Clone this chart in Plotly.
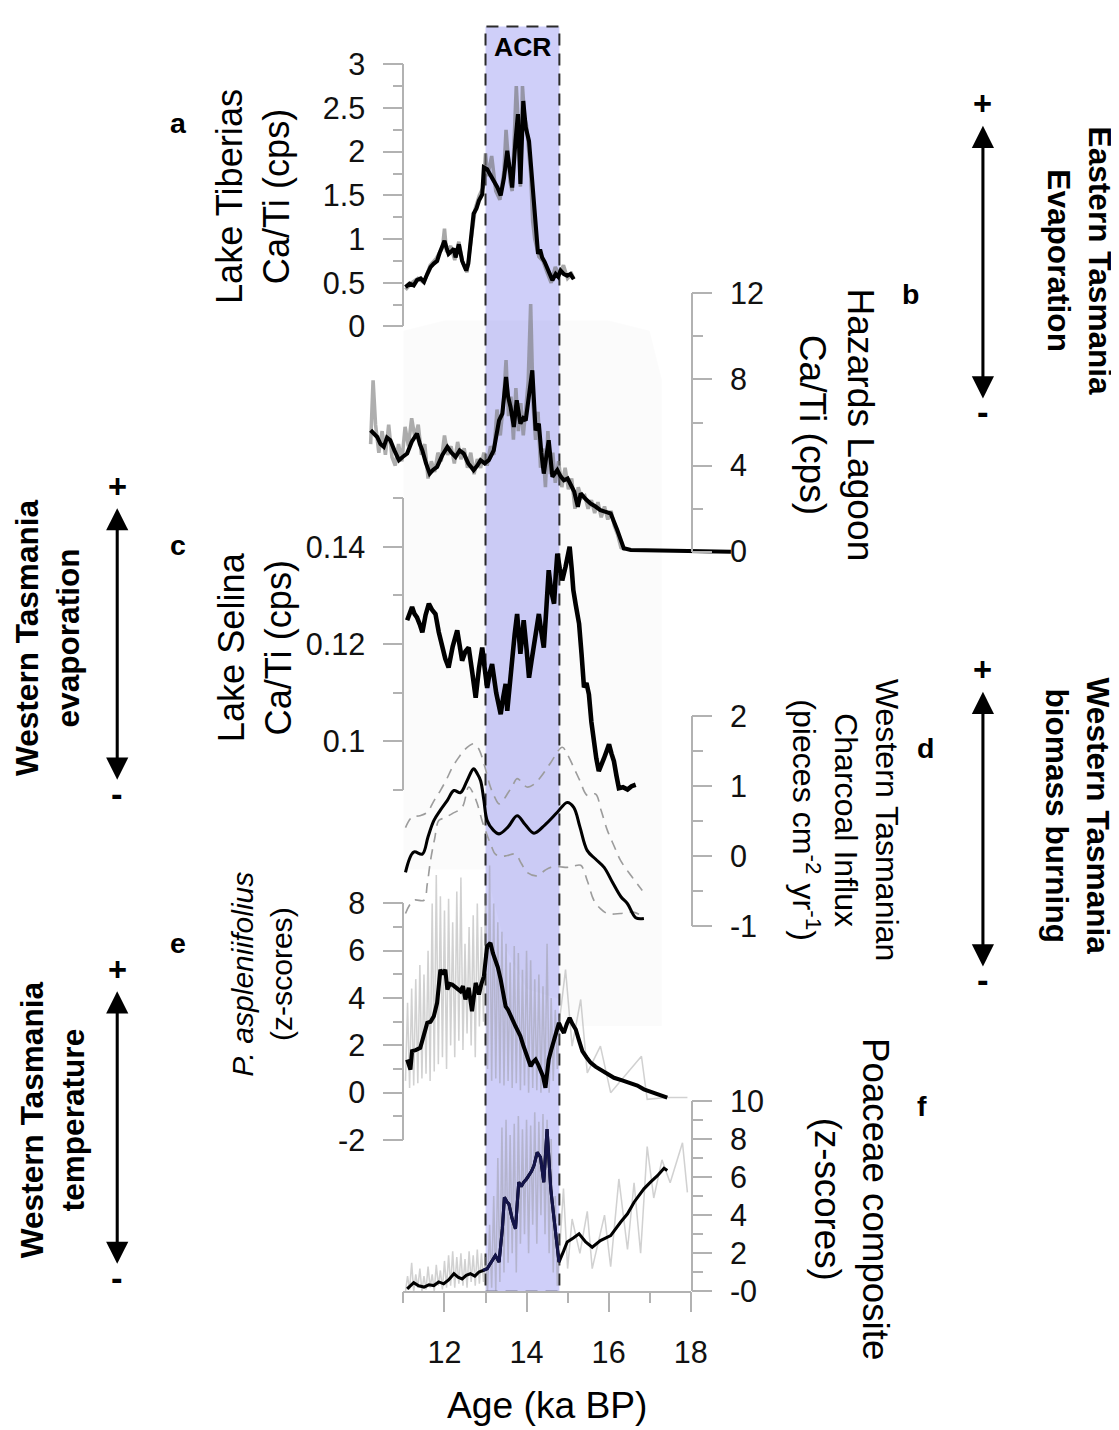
import plotly.graph_objects as go

# Figure size and the observed page->picture mapping (body margin + top offset, then rescale)
FW, FH = 1119, 1430
OX, OY = 8.0, 24.5          # where the figure sits on the page
SX, SY = 0.984, 0.978       # page -> picture scale
FS = 1 / 0.981              # font / stroke compensation

# ---------------- data ----------------
acr_bounds = [13.0, 14.8]

x_tick_vals = [12, 14, 16, 18]
x_minor_vals = [11, 13, 15, 17]

tib_ticks = [0, 0.5, 1, 1.5, 2, 2.5, 3]
tib_ticktext = ['0', '0.5', '1', '1.5', '2', '2.5', '3']
tib_minor = [0.25, 0.75, 1.25, 1.75, 2.25, 2.75]
haz_ticks = [0, 4, 8, 12]
haz_minor = [2, 6, 10]
sel_ticks = [0.10, 0.12, 0.14]
sel_ticktext = ['0.1', '0.12', '0.14']
sel_minor = [0.09, 0.11, 0.13, 0.15]
char_ticks = [-1, 0, 1, 2]
char_minor = [-0.5, 0.5, 1.5]
pasp_ticks = [-2, 0, 2, 4, 6, 8]
pasp_minor = [-1, 1, 3, 5, 7]
poa_ticks = [0, 2, 4, 6, 8, 10]
poa_ticktext = ['-0', '2', '4', '6', '8', '10']
poa_minor = [1, 3, 5, 7, 9]

# (a) Lake Tiberias Ca/Ti
tib_age = [11.05, 11.15, 11.25, 11.33, 11.42, 11.5, 11.58, 11.66, 11.74, 11.82,
           11.88, 11.94, 12.0, 12.05, 12.1, 12.17, 12.23, 12.27, 12.35, 12.43,
           12.48, 12.53, 12.58, 12.63, 12.67, 12.71, 12.78, 12.84, 12.92, 12.96,
           13.04, 13.1, 13.16, 13.22, 13.29, 13.37, 13.45, 13.53, 13.58, 13.61,
           13.65, 13.73, 13.79, 13.83, 13.85, 13.92, 13.98, 14.06, 14.14, 14.22,
           14.28, 14.33, 14.38, 14.44, 14.5, 14.57, 14.63, 14.71, 14.77, 14.83,
           14.91, 14.99, 15.07, 15.15]
tib_val = [0.45, 0.49, 0.47, 0.53, 0.55, 0.51, 0.6, 0.68, 0.72, 0.75,
           0.84, 0.92, 0.98, 0.9, 0.83, 0.86, 0.89, 0.79, 0.94, 0.75,
           0.7, 0.64, 0.72, 0.98, 1.1, 1.29, 1.35, 1.44, 1.51, 1.82,
           1.8, 1.75, 1.7, 1.66, 1.59, 1.5, 1.7, 2.01, 1.85, 1.74,
           1.59, 2.12, 2.43, 1.9, 1.63, 2.58, 2.28, 2.12, 1.67, 1.13,
           0.83, 0.88, 0.79, 0.74, 0.68, 0.6, 0.53, 0.6, 0.57, 0.64,
           0.6, 0.58, 0.6, 0.54]
tib_raw_age = [11.05, 11.2, 11.35, 11.5, 11.65, 11.8, 11.95, 12.0, 12.05, 12.15,
               12.25, 12.35, 12.45, 12.55, 12.65, 12.75, 12.85, 12.95, 13.0, 13.05,
               13.15, 13.25, 13.35, 13.45, 13.5, 13.55, 13.6, 13.65, 13.7, 13.75,
               13.8, 13.85, 13.9, 13.95, 14.0, 14.05, 14.1, 14.15, 14.2, 14.3,
               14.4, 14.5, 14.6, 14.7, 14.8, 14.9, 15.0, 15.1, 15.15]
tib_raw = [0.42, 0.5, 0.55, 0.5, 0.7, 0.78, 0.9, 1.12, 0.85, 0.92,
           0.76, 0.97, 0.72, 0.62, 1.0, 1.35, 1.5, 1.6, 1.98, 1.72,
           1.95, 1.55, 1.45, 1.78, 2.25, 1.9, 1.65, 1.55, 2.2, 2.75,
           2.3, 1.6, 2.75, 2.4, 2.3, 2.0, 1.75, 1.2, 1.0, 0.8,
           0.75, 0.62, 0.5, 0.68, 0.6, 0.7, 0.55, 0.6, 0.55]

# (b) Hazards Lagoon Ca/Ti
haz_age = [10.2, 10.28, 10.36, 10.44, 10.52, 10.6, 10.68, 10.78, 10.89, 10.98,
           11.09, 11.2, 11.33, 11.4, 11.46, 11.55, 11.64, 11.72, 11.82, 11.95,
           12.07, 12.17, 12.27, 12.37, 12.47, 12.58, 12.71, 12.8, 12.88, 12.98,
           13.08, 13.2, 13.33, 13.41, 13.5, 13.55, 13.61, 13.69, 13.76, 13.85,
           13.92, 13.98, 14.06, 14.14, 14.22, 14.3, 14.36, 14.42, 14.48, 14.54,
           14.63, 14.75, 14.83, 14.91, 15.0, 15.07, 15.16, 15.25, 15.32, 15.44,
           15.56, 15.68, 15.8, 15.93, 16.05, 16.21, 16.3, 16.37, 16.54, 17.0,
           17.59, 18.3, 18.98]
haz_val = [5.64, 5.5, 5.33, 5.0, 4.87, 5.3, 5.18, 4.7, 4.25, 4.4,
           4.56, 5.1, 5.49, 5.0, 4.71, 4.1, 3.63, 3.8, 3.94, 4.5,
           4.87, 4.6, 4.40, 4.7, 4.56, 4.1, 3.79, 4.0, 4.25, 4.1,
           4.25, 4.71, 6.10, 6.41, 8.11, 7.2, 6.72, 5.79, 7.03, 5.95,
           6.2, 6.10, 7.34, 8.42, 5.64, 5.95, 4.6, 3.63, 4.4, 5.18,
           3.48, 3.79, 3.5, 3.32, 3.4, 3.17, 2.8, 2.09, 2.71, 2.45,
           2.24, 2.1, 1.93, 1.85, 1.78, 1.01, 0.5, 0.16, 0.08, 0.06,
           0.08, 0.04, 0.0]
haz_raw_age = [10.2, 10.26, 10.32, 10.4, 10.48, 10.56, 10.64, 10.72, 10.8, 10.88,
               10.96, 11.04, 11.12, 11.2, 11.28, 11.36, 11.44, 11.52, 11.6, 11.68,
               11.76, 11.84, 11.92, 12.0, 12.08, 12.16, 12.24, 12.32, 12.4, 12.48,
               12.56, 12.64, 12.72, 12.8, 12.88, 12.96, 13.04, 13.12, 13.2, 13.28,
               13.36, 13.44, 13.5, 13.56, 13.62, 13.68, 13.74, 13.8, 13.86, 13.92,
               13.98, 14.04, 14.1, 14.16, 14.22, 14.28, 14.34, 14.4, 14.46, 14.52,
               14.58, 14.64, 14.7, 14.78, 14.86, 14.94, 15.02, 15.1, 15.18, 15.26,
               15.34, 15.42, 15.5, 15.58, 15.66, 15.74, 15.82, 15.9, 15.98, 16.06,
               16.14, 16.22, 16.3, 16.4]
haz_raw = [5.0, 7.96, 5.9, 4.6, 5.6, 4.5, 5.9, 4.4, 4.0, 5.0,
           4.2, 5.8, 4.9, 6.2, 5.3, 5.9, 4.5, 5.0, 3.4, 4.2,
           3.7, 4.6, 4.2, 5.4, 4.5, 4.9, 4.1, 5.1, 4.3, 4.8,
           3.9, 4.6, 3.6, 4.3, 3.9, 4.6, 4.0, 4.9, 4.5, 6.6,
           5.4, 7.0, 8.9, 6.3, 7.2, 5.2, 7.6, 5.6, 6.9, 5.4,
           6.6, 7.9, 11.5, 6.8, 5.2, 6.5, 3.9, 4.8, 3.0, 5.6,
           3.6, 4.6, 3.2, 4.2, 3.0, 3.9, 2.9, 3.4, 2.0, 3.0,
           2.5, 2.6, 2.0, 2.4, 1.8, 2.3, 1.6, 2.1, 1.5, 1.9,
           1.2, 0.8, 0.2, 0.1]

# (c) Lake Selina Ca/Ti
sel_age = [11.09, 11.15, 11.21, 11.27, 11.33, 11.4, 11.46, 11.54, 11.62, 11.7,
           11.78, 11.86, 11.94, 12.02, 12.1, 12.2, 12.31, 12.37, 12.43, 12.51,
           12.59, 12.68, 12.76, 12.84, 12.92, 12.98, 13.04, 13.1, 13.16, 13.26,
           13.37, 13.43, 13.49, 13.53, 13.59, 13.65, 13.71, 13.77, 13.81, 13.85,
           13.89, 13.93, 14.0, 14.06, 14.12, 14.18, 14.24, 14.3, 14.36, 14.42,
           14.48, 14.54, 14.6, 14.67, 14.71, 14.75, 14.81, 14.87, 14.95, 15.05,
           15.1, 15.14, 15.2, 15.28, 15.34, 15.4, 15.46, 15.52, 15.58, 15.64,
           15.7, 15.76, 15.82, 15.89, 15.95, 16.01, 16.07, 16.13, 16.19, 16.25,
           16.35, 16.46, 16.56, 16.66]
sel_val = [0.1249, 0.1265, 0.1276, 0.1262, 0.1255, 0.1240, 0.1224, 0.1260, 0.1283, 0.1270,
           0.1262, 0.1225, 0.1193, 0.1170, 0.1152, 0.1195, 0.1228, 0.1195, 0.1166, 0.1185,
           0.1193, 0.1140, 0.1090, 0.1150, 0.1193, 0.1150, 0.1110, 0.1140, 0.1159, 0.1100,
           0.1056, 0.1090, 0.1118, 0.1063, 0.1120, 0.1173, 0.1220, 0.1262, 0.1220, 0.1180,
           0.1215, 0.1249, 0.1190, 0.1131, 0.1165, 0.1200, 0.1230, 0.1262, 0.1225, 0.1193,
           0.1270, 0.1352, 0.1310, 0.1283, 0.1340, 0.1386, 0.1355, 0.1331, 0.1359, 0.1400,
           0.1355, 0.1311, 0.1280, 0.1242, 0.1180, 0.1111, 0.1120, 0.1097, 0.1040, 0.0994,
           0.0965, 0.0939, 0.0955, 0.0966, 0.0980, 0.0994, 0.0975, 0.0959, 0.0930, 0.0904,
           0.0906, 0.0901, 0.0908, 0.0911]
# faint raw-data envelope behind the middle panels (Lake Selina units)
bg_age = [11.0, 12.0, 13.0, 13.5, 14.0, 14.8, 15.0, 16.0, 17.0, 17.3]
bg_hi = [0.1844, 0.1865, 0.1865, 0.1865, 0.1865, 0.1865, 0.1865, 0.1865, 0.1844, 0.1742]
bg_lo = [0.0737, 0.0737, 0.0737, 0.0573, 0.0491, 0.0470, 0.0415, 0.0415, 0.0415, 0.0415]

# (d) Western Tasmanian charcoal influx
char_age = [11.05, 11.25, 11.46, 11.6, 11.74, 11.9, 12.07, 12.23, 12.39, 12.55,
            12.71, 12.8, 12.88, 12.96, 13.04, 13.18, 13.33, 13.55, 13.77, 13.97,
            14.18, 14.45, 14.75, 14.99, 15.15, 15.3, 15.48, 15.68, 15.89, 16.1,
            16.3, 16.46, 16.66, 16.86]
char_val = [-0.23, 0.06, 0.03, 0.28, 0.51, 0.66, 0.8, 0.94, 0.91, 1.08,
            1.25, 1.18, 1.08, 0.8, 0.51, 0.38, 0.32, 0.42, 0.58, 0.45,
            0.33, 0.45, 0.63, 0.77, 0.7, 0.42, 0.08, -0.04, -0.16, -0.38,
            -0.58, -0.68, -0.88, -0.89]
char_hi_age = [11.05, 11.21, 11.4, 11.58, 11.75, 11.9, 12.05, 12.19, 12.33, 12.47,
               12.6, 12.71, 12.82, 12.92, 13.02, 13.12, 13.22, 13.33, 13.43, 13.53,
               13.65, 13.77, 13.9, 14.01, 14.18, 14.34, 14.6, 14.87, 15.0, 15.15,
               15.3, 15.48, 15.68, 15.82, 15.97, 16.13, 16.29, 16.55, 16.82]
char_hi = [0.41, 0.56, 0.58, 0.63, 0.8, 0.94, 1.1, 1.27, 1.4, 1.51,
           1.58, 1.61, 1.55, 1.41, 1.2, 0.99, 0.85, 0.75, 0.8, 0.89,
           1.0, 1.11, 1.05, 0.99, 1.03, 1.13, 1.35, 1.56, 1.45, 1.27,
           1.08, 0.87, 0.89, 0.65, 0.37, 0.15, -0.06, -0.28, -0.49]
char_lo_age = [11.05, 11.25, 11.5, 11.58, 11.66, 11.76, 11.86, 12.0, 12.19, 12.43,
               12.59, 12.7, 12.8, 12.92, 13.04, 13.14, 13.24, 13.4, 13.53, 13.73,
               13.87, 14.01, 14.26, 14.45, 14.59, 14.8, 14.99, 15.15, 15.32, 15.48,
               15.64, 15.8, 15.97, 16.29, 16.6, 16.86]
char_lo = [-0.82, -0.63, -0.63, -0.4, -0.06, 0.25, 0.51, 0.55, 0.61, 0.7,
           0.99, 0.9, 0.75, 0.5, 0.3, 0.15, 0.03, 0.0, 0.01, 0.03,
           -0.1, -0.23, -0.28, -0.2, -0.16, -0.15, -0.16, -0.14, -0.13, -0.35,
           -0.63, -0.75, -0.82, -0.82, -0.8, -0.87]

# dense sampling ages shared by the two pollen raw records
dense_age = [11.05, 11.1, 11.15, 11.2, 11.25, 11.3, 11.35, 11.4, 11.45, 11.5,
             11.55, 11.6, 11.65, 11.7, 11.75, 11.8, 11.85, 11.9, 11.95, 12.0,
             12.05, 12.1, 12.15, 12.2, 12.25, 12.3, 12.35, 12.4, 12.45, 12.5,
             12.55, 12.6, 12.65, 12.7, 12.75, 12.8, 12.85, 12.9, 12.95, 13.0,
             13.05, 13.1, 13.15, 13.2, 13.25, 13.3, 13.35, 13.4, 13.45, 13.5,
             13.55, 13.6, 13.65, 13.7, 13.75, 13.8, 13.85, 13.9, 13.95, 14.0,
             14.05, 14.1, 14.15, 14.2, 14.25, 14.3, 14.35, 14.4, 14.45, 14.5,
             14.55, 14.6, 14.65, 14.7, 14.75, 14.8]

# (e) P. aspleniifolius z-scores
pasp_age = [11.09, 11.17, 11.21, 11.3, 11.41, 11.5, 11.58, 11.66, 11.74, 11.82,
            11.86, 11.9, 11.96, 12.02, 12.07, 12.13, 12.19, 12.29, 12.39, 12.45,
            12.51, 12.59, 12.67, 12.76, 12.84, 12.9, 12.96, 13.04, 13.12, 13.18,
            13.24, 13.3, 13.37, 13.43, 13.49, 13.55, 13.61, 13.67, 13.73, 13.79,
            13.85, 13.92, 13.98, 14.04, 14.1, 14.16, 14.22, 14.28, 14.34, 14.4,
            14.46, 14.5, 14.54, 14.6, 14.67, 14.73, 14.79, 14.85, 14.91, 14.98,
            15.05, 15.12, 15.2, 15.28, 15.36, 15.46, 15.56, 15.68, 15.8, 15.96,
            16.13, 16.33, 16.54, 16.7, 16.86, 17.0, 17.11, 17.27, 17.43]
pasp_val = [1.4, 0.98, 1.76, 1.8, 1.9, 2.4, 2.95, 3.0, 3.23, 3.8,
            4.5, 5.2, 5.0, 5.2, 4.36, 4.6, 4.57, 4.45, 4.29, 4.5,
            3.94, 4.43, 3.44, 4.64, 4.15, 4.6, 4.92, 6.19, 6.33, 5.9,
            5.62, 5.3, 4.78, 4.2, 3.65, 3.5, 3.23, 3.0, 2.81, 2.6,
            2.39, 2.0, 1.69, 1.4, 1.12, 1.3, 1.4, 1.2, 0.98, 0.7,
            0.21, 0.9, 1.4, 1.8, 2.18, 2.6, 2.95, 2.7, 2.53, 2.9,
            3.16, 2.9, 2.67, 2.2, 1.76, 1.5, 1.27, 1.1, 0.98, 0.8,
            0.63, 0.52, 0.42, 0.3, 0.14, 0.06, 0.0, -0.1, -0.21]
pasp_raw_tail_age = [14.95, 15.11, 15.32, 15.48, 15.8, 16.05, 16.46, 16.8, 16.94, 17.4, 17.92]
pasp_raw = [0.5, 3.8, 0.2, 4.4, 0.3, 4.8, 0.4, 5.4, 0.6, 5.0,
            0.8, 6.0, 0.5, 8.0, 0.9, 9.2, 1.2, 8.3, 1.5, 7.7,
            1.0, 8.2, 2.0, 7.2, 1.5, 8.5, 2.2, 9.1, 1.8, 6.3,
            2.5, 7.0, 2.0, 7.5, 1.5, 8.0, 2.8, 7.0, 3.0, 8.4,
            1.0, 9.6, 0.5, 8.0, 0.6, 7.2, 0.4, 6.8, 0.3, 6.3,
            0.5, 5.5, 0.2, 6.2, 0.4, 5.9, 0.1, 5.2, 0.3, 6.0,
            0.0, 5.6, 0.2, 4.8, 0.1, 5.0, 0.0, 4.5, 0.3, 6.3,
            0.0, 4.0, 0.5, 3.5, 1.0, 3.0,
            5.2, 1.97, 3.94, 0.84, 1.97, 0.0, 0.84, 1.54, -0.28, -0.2, -0.2]

# (f) Poaceae composite z-scores
poa_age = [11.09, 11.17, 11.25, 11.37, 11.5, 11.62, 11.74, 11.86, 11.98, 12.1,
           12.23, 12.33, 12.43, 12.53, 12.63, 12.74, 12.84, 12.94, 13.04, 13.1,
           13.16, 13.24, 13.33, 13.41, 13.46, 13.52, 13.57, 13.65, 13.73, 13.81,
           13.87, 13.93, 14.0, 14.06, 14.12, 14.18, 14.26, 14.34, 14.42, 14.5,
           14.59, 14.67, 14.79, 14.9, 14.99, 15.14, 15.28, 15.44, 15.6, 15.8,
           16.05, 16.29, 16.46, 16.62, 16.86, 17.02, 17.19, 17.35, 17.43]
poa_val = [0.14, 0.3, 0.46, 0.3, 0.23, 0.35, 0.31, 0.5, 0.4, 0.6,
           0.93, 0.75, 0.66, 0.85, 0.93, 0.8, 1.02, 1.1, 1.19, 1.4,
           1.62, 1.88, 1.54, 3.28, 4.94, 4.7, 4.59, 3.81, 3.28, 5.73,
           5.5, 5.73, 5.9, 6.07, 6.3, 6.6, 7.3, 7.04, 5.73, 8.52,
           5.38, 3.81, 1.54, 2.1, 2.59, 2.8, 3.02, 2.6, 2.32, 2.67,
           2.93, 3.63, 4.07, 4.68, 5.38, 5.73, 6.07, 6.46, 6.34]
poa_raw_tail_age = [14.9, 15.0, 15.11, 15.3, 15.48, 15.6, 15.9, 16.05, 16.25, 16.46,
                    16.62, 16.78, 16.94, 17.1, 17.3, 17.5, 17.8, 17.92]
poa_raw = [0.0, 0.8, 0.1, 1.5, 0.0, 0.9, 0.2, 1.2, 0.0, 0.8,
           0.1, 1.3, 0.2, 0.9, 0.0, 1.4, 0.3, 1.1, 0.1, 1.6,
           0.2, 1.9, 0.3, 2.1, 0.2, 1.8, 0.4, 2.0, 0.3, 1.7,
           0.2, 2.1, 0.5, 1.9, 0.3, 2.2, 0.4, 2.0, 0.5, 1.8,
           0.0, 3.5, 0.2, 5.0, 0.0, 7.0, 0.5, 8.6, 1.0, 9.0,
           1.5, 8.2, 2.0, 8.8, 1.0, 9.2, 2.5, 8.5, 3.0, 9.0,
           2.0, 8.7, 3.5, 9.4, 2.5, 8.9, 4.0, 9.3, 3.0, 9.0,
           2.0, 8.0, 1.0, 5.0, 0.3, 2.0,
           5.4, 1.2, 3.8, 2.0, 4.2, 1.2, 4.0, 1.3, 5.9, 2.2,
           5.7, 2.0, 7.6, 4.9, 6.9, 5.7, 7.8, 5.2]

# ---------------- layout calibration (picture pixels) ----------------
X11_PX, PX_PER_KA = 403.0, 41.0


def ka_at(px):
    return 11 + (px - X11_PX) / PX_PER_KA


def fig_x(X):      # picture x -> figure x (pixels)
    return X / SX - OX


def fig_y(Y):      # picture y -> figure y (pixels)
    return Y / SY - OY


def pic_x(fx):
    return (fx + OX) * SX


def pic_y(fy):
    return (fy + OY) * SY


X_FULL = [ka_at(pic_x(0)), ka_at(pic_x(FW))]

# value / picture-row pairs for each panel's vertical scale
CAL = {
    'a': (0.0, 326.0, 3.0, 63.3),
    'b': (0.0, 551.7, 12.0, 292.7),
    'c': (0.10, 741.7, 0.14, 546.7),
    'd': (-1.0, 926.7, 2.0, 716.7),
    'e': (-2.0, 1141.0, 8.0, 904.0),
    'f': (0.0, 1292.7, 10.0, 1101.7),
}


def v_at(p, py):
    va, pa, vb, pb = CAL[p]
    return va + (py - pa) * (vb - va) / (pb - pa)


def py_at(p, v):
    va, pa, vb, pb = CAL[p]
    return pa + (v - va) * (pb - pa) / (vb - va)


def pxp(X):
    return fig_x(X) / FW


def pyp(Y):
    return 1 - fig_y(Y) / FH


def full_range(p):
    return [v_at(p, pic_y(FH)), v_at(p, pic_y(0))]


def dom(p, lo, hi):
    return [pyp(py_at(p, lo)), pyp(py_at(p, hi))]


FONT = 'Liberation Sans, Arial, sans-serif'
AXC = '#b2b2b2'
LEFT_X, RIGHT_X = 403.0, 691.0

fig = go.Figure()

HIDDEN = {'a': 'y', 'b': 'y3', 'c': 'y5', 'd': 'y7', 'e': 'y9', 'f': 'y11'}
VISIBLE = {'a': 'y2', 'b': 'y4', 'c': 'y6', 'd': 'y8', 'e': 'y10', 'f': 'y12'}


def line(x, y, p, color, width, dash=None, shape='linear'):
    fig.add_trace(go.Scatter(x=x, y=y, xaxis='x', yaxis=HIDDEN[p], mode='lines',
                             line=dict(color=color, width=width * FS, dash=dash, shape=shape),
                             hoverinfo='skip', showlegend=False))


# faint raw background
fig.add_trace(go.Scatter(x=bg_age, y=bg_lo, xaxis='x', yaxis=HIDDEN['c'], mode='lines',
                         line=dict(width=0, color='rgba(0,0,0,0)'), hoverinfo='skip', showlegend=False))
fig.add_trace(go.Scatter(x=bg_age, y=bg_hi, xaxis='x', yaxis=HIDDEN['c'], mode='lines',
                         fill='tonexty', fillcolor='rgba(0,0,0,0.016)',
                         line=dict(width=0, color='rgba(0,0,0,0)'), hoverinfo='skip', showlegend=False))

line(tib_raw_age, tib_raw, 'a', 'rgba(110,110,110,0.6)', 3.5)
line(tib_age, tib_val, 'a', 'black', 4)
line(haz_raw_age, haz_raw, 'b', 'rgba(120,120,120,0.6)', 3.5)
line(haz_age, haz_val, 'b', 'black', 4)
line(sel_age, sel_val, 'c', 'black', 4.5)
line(char_hi_age, char_hi, 'd', '#9c9c9c', 1.6, dash='10px,7px', shape='spline')
line(char_lo_age, char_lo, 'd', '#9c9c9c', 1.6, dash='10px,7px', shape='spline')
line(char_age, char_val, 'd', 'black', 3, shape='spline')
line(dense_age + pasp_raw_tail_age, pasp_raw, 'e', 'rgba(140,140,140,0.4)', 1.5)
line(pasp_age, pasp_val, 'e', 'black', 4)
line(dense_age + poa_raw_tail_age, poa_raw, 'f', 'rgba(140,140,140,0.4)', 1.5)
line(poa_age, poa_val, 'f', 'black', 3)
# inside the ACR the Poaceae curve reads dark navy
acr_idx = [i for i, a in enumerate(poa_age) if acr_bounds[0] - 0.07 <= a <= acr_bounds[1]]
line([poa_age[i] for i in acr_idx], [poa_val[i] for i in acr_idx], 'f', '#14144a', 3)

# dummy traces so the visible axes get their own subplots
for p in 'abcdef':
    fig.add_trace(go.Scatter(x=[None], y=[None], xaxis='x', yaxis=VISIBLE[p], mode='lines',
                             hoverinfo='skip', showlegend=False))
fig.add_trace(go.Scatter(x=[None], y=[None], xaxis='x2', yaxis='y', mode='lines',
                         hoverinfo='skip', showlegend=False))

tickfont = dict(family=FONT, size=30 * FS, color='#111111')


def vis_axis(p, rng, side, tickvals, ticktext, minor_vals):
    return dict(domain=dom(p, rng[0], rng[1]), range=rng, side=side, anchor='free',
                position=pxp(LEFT_X if side == 'left' else RIGHT_X),
                showline=True, linecolor=AXC, linewidth=1.5,
                ticks='outside', ticklen=19 * FS, tickwidth=1.5, tickcolor=AXC,
                tickmode='array', tickvals=tickvals, ticktext=ticktext,
                tickfont=tickfont, ticklabelstandoff=12,
                minor=dict(tickmode='array', tickvals=minor_vals, ticks='outside',
                           ticklen=10 * FS, tickwidth=1.5, tickcolor=AXC, showgrid=False),
                showgrid=False, zeroline=False, fixedrange=True)


layout = dict(
    width=FW, height=FH, margin=dict(l=0, r=0, t=0, b=0, pad=0),
    paper_bgcolor='white', plot_bgcolor='rgba(0,0,0,0)', showlegend=False,
    font=dict(family=FONT, color='black'),
    xaxis=dict(domain=[0, 1], range=X_FULL, visible=False, fixedrange=True),
    xaxis2=dict(domain=[pxp(X11_PX), pxp(X11_PX + 7 * PX_PER_KA)], range=[11, 18],
                anchor='free', position=pyp(1293.0),
                showline=True, linecolor=AXC, linewidth=1.5,
                ticks='outside', ticklen=19 * FS, tickwidth=1.5, tickcolor=AXC,
                tickmode='array', tickvals=x_tick_vals, ticktext=[str(v) for v in x_tick_vals],
                tickfont=dict(family=FONT, size=30 * FS, color='#111111'), ticklabelstandoff=14,
                minor=dict(tickmode='array', tickvals=x_minor_vals, ticks='outside',
                           ticklen=10 * FS, tickwidth=1.5, tickcolor=AXC, showgrid=False),
                showgrid=False, zeroline=False, fixedrange=True),
    yaxis=dict(domain=[0, 1], range=full_range('a'), visible=False, fixedrange=True),
    yaxis3=dict(overlaying='y', range=full_range('b'), visible=False, fixedrange=True),
    yaxis5=dict(overlaying='y', range=full_range('c'), visible=False, fixedrange=True),
    yaxis7=dict(overlaying='y', range=full_range('d'), visible=False, fixedrange=True),
    yaxis9=dict(overlaying='y', range=full_range('e'), visible=False, fixedrange=True),
    yaxis11=dict(overlaying='y', range=full_range('f'), visible=False, fixedrange=True),
    yaxis2=vis_axis('a', [0, 3], 'left', tib_ticks, tib_ticktext, tib_minor),
    yaxis4=vis_axis('b', [0, 12], 'right', haz_ticks, [str(v) for v in haz_ticks], haz_minor),
    yaxis6=vis_axis('c', [0.09, 0.15], 'left', sel_ticks, sel_ticktext, sel_minor),
    yaxis8=vis_axis('d', [-1, 2], 'right', char_ticks, [str(v) for v in char_ticks], char_minor),
    yaxis10=vis_axis('e', [-2, 8], 'left', pasp_ticks, [str(v) for v in pasp_ticks], pasp_minor),
    yaxis12=vis_axis('f', [0, 10], 'right', poa_ticks, poa_ticktext, poa_minor),
)
fig.update_layout(**layout)

# ACR band
fig.add_shape(type='rect', xref='x', yref='paper', x0=acr_bounds[0], x1=acr_bounds[1],
              y0=pyp(1293.0), y1=pyp(25.5), fillcolor='#cfcff9',
              line=dict(color='#2a2a2a', width=2, dash='12px,8px'), layer='below')


def ann(text, px, py, size, angle=0, bold=False):
    if bold:
        text = '<b>' + text + '</b>'
    fig.add_annotation(text=text, x=pxp(px), y=pyp(py), xref='paper', yref='paper',
                       showarrow=False, textangle=angle, xanchor='center', yanchor='middle',
                       font=dict(family=FONT, size=size * FS, color='black'), align='center')


ann('ACR', 522, 46, 26, bold=True)
ann('Lake Tiberias<br>Ca/Ti (cps)', 252, 196, 35.5, angle=-90)
ann('Hazards Lagoon<br>Ca/Ti (cps)', 836, 425, 36.5, angle=90)
ann('Lake Selina<br>Ca/Ti (cps)', 255, 647, 35.5, angle=-90)
ann('Western Tasmanian<br>Charcoal Influx<br>(pieces cm<sup>-2</sup> yr<sup>-1</sup>)', 845, 821, 31.5, angle=90)
ann('<i>P. aspleniifolius</i><br>(z-scores)', 262, 975, 29.5, angle=-90)
ann('Poaceae composite<br>(z-scores)', 850, 1200, 36, angle=90)
ann('Age (ka BP)', 546, 1406, 36.5)

ann('Eastern Tasmania<br>Evaporation', 1078, 260, 31, angle=90, bold=True)
ann('Western Tasmania<br>biomass burning', 1076, 816, 31, angle=90, bold=True)
ann('Western Tasmania<br>evaporation', 48, 638, 31, angle=-90, bold=True)
ann('Western Tasmania<br>temperature', 52, 1121, 31, angle=-90, bold=True)

for letter, px, py in [('a', 178, 122), ('b', 910, 293), ('c', 178, 545),
                       ('d', 925, 748), ('e', 178, 944), ('f', 921, 1107)]:
    ann(letter, px, py, 28, bold=True)

for px, ptop, pbot in [(982, 125, 393), (117, 508, 775), (982, 692, 962), (117, 992, 1260)]:
    fig.add_annotation(text='', x=pxp(px), y=pyp(ptop), xref='paper', yref='paper',
                       ax=0, ay=(pbot - ptop) / SY, axref='pixel', ayref='pixel', showarrow=True,
                       arrowside='end+start', arrowhead=2, startarrowhead=2,
                       arrowsize=1.45, startarrowsize=1.45, arrowwidth=3 * FS, arrowcolor='black',
                       standoff=0, startstandoff=0)
    ann('+', px, ptop - 22, 32, bold=True)
    ann('-', px, pbot + 19, 34, bold=True)

fig.write_html('out.html')
